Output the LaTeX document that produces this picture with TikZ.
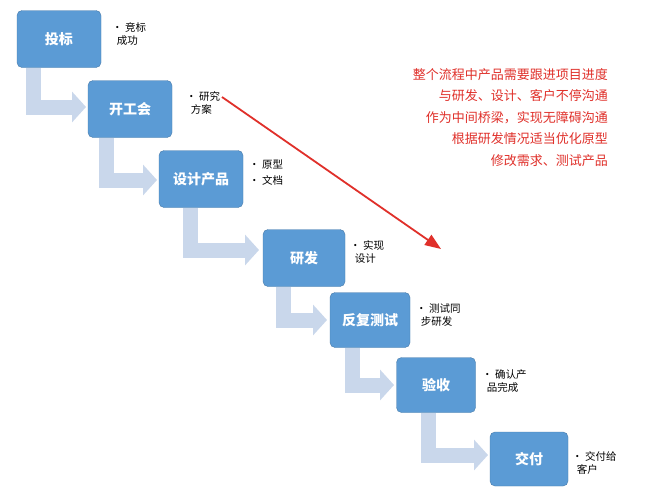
\documentclass[tikz,border=0pt]{standalone}
\usepackage{fontspec}
\newfontfamily\cjk{Noto Sans CJK SC}
\usetikzlibrary{arrows.meta}
\definecolor{bx}{HTML}{5B9BD5}
\definecolor{ar}{HTML}{C9D7EB}
\definecolor{rd}{HTML}{E0302A}
\begin{document}
\begin{tikzpicture}[x=1pt,y=-1pt,
 stage/.style={draw=bx!80!black,fill=bx,rounded corners=5pt,text=white,font=\cjk\fontsize{14}{16}\selectfont\bfseries,minimum width=84pt,minimum height=57pt},
 note/.style={font=\cjk\fontsize{10.5}{13}\selectfont,align=left,anchor=north west,inner sep=0pt},
 flow/.style={ar,line width=15pt,line join=miter,-{Triangle[length=14pt,width=30pt]}}]
\useasboundingbox[fill=white] (0,0) rectangle (654,496);
\draw[flow] (33,68) |- (86,107);
\draw[flow] (106,138) |- (157,180);
\draw[flow] (190,208) |- (259,250);
\draw[flow] (283,287) |- (327,320);
\draw[flow] (352,348) |- (394,385);
\draw[flow] (428,413) |- (488,455);
\node[stage] (a) at (59,39) {投标};
\node[stage] (b) at (130,109) {开工会};
\node[stage] (c) at (201,179) {设计产品};
\node[stage,minimum width=82pt] (d) at (304,258) {研发};
\node[stage,minimum width=80pt,minimum height=55pt] (e) at (370,320) {反复测试};
\node[stage,minimum width=79pt,minimum height=55pt] (f) at (436,385) {验收};
\node[stage,minimum width=78pt,minimum height=54pt] (g) at (529,459) {交付};
\node[note] (na) at (112,22) {• 竞标\\\ \ 成功};
\node[note] (nb) at (186,91) {• 研究\\\ \ 方案};
\node[note] (nc) at (249,160) {• 原型\\[3pt]• 文档};
\node[note] (nd) at (350,240) {• 实现\\\ \ 设计};
\node[note] (ne) at (416,304) {• 测试同\\\ \ 步研发};
\node[note] (nf) at (482,369) {• 确认产\\\ \ 品完成};
\node[note] (ng) at (572,451) {• 交付给\\\ \ 客户};
\node[font=\cjk\fontsize{13}{21.5}\selectfont,text=rd,align=right,anchor=north east,inner sep=0pt] (t) at (608,68)
 {整个流程中产品需要跟进项目进度\\与研发、设计、客户不停沟通\\作为中间桥梁，实现无障碍沟通\\根据研发情况适当优化原型\\修改需求、测试产品};
\coordinate (s) at (222,97);
\coordinate (e2) at (441,249);
\draw[rd,line width=1.8pt,-{Triangle[length=16pt,width=12pt]}] (s) -- (e2);
\end{tikzpicture}
\end{document}
